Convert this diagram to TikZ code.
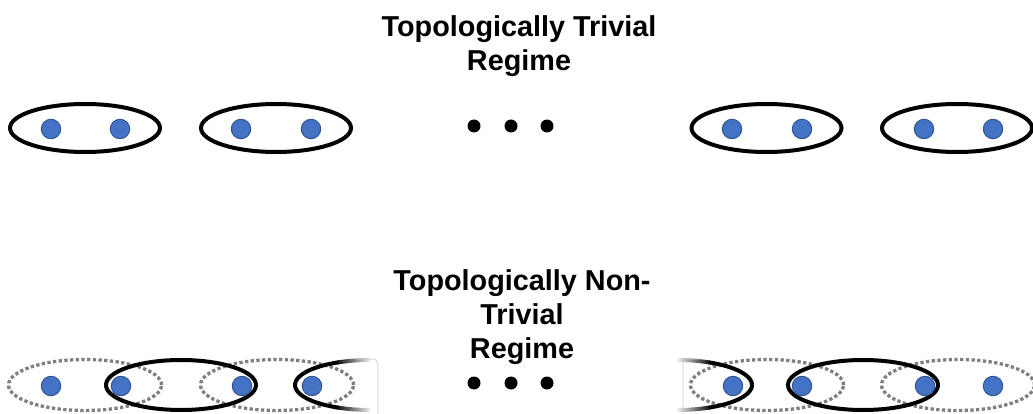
\documentclass[tikz,border=0pt]{standalone}
\usepackage{fontspec}
\setmainfont{Liberation Sans}
\usetikzlibrary{fadings}
\definecolor{siteblue}{HTML}{4472C4}
\definecolor{siteedge}{HTML}{2F528F}
\definecolor{bondgray}{HTML}{7F7F7F}
\definecolor{framegray}{HTML}{C8C8C8}
\tikzfading[name=fade out right, left color=transparent!0, right color=transparent!100]
\tikzfading[name=fade out left, left color=transparent!100, right color=transparent!0]
\tikzset{
  site/.style={circle, fill=siteblue, draw=siteedge, line width=0.9pt, minimum size=19.5pt, inner sep=0pt},
  bond/.style={draw=black, line width=4pt},
  weakbond/.style={draw=bondgray, line width=3.3pt, dash pattern=on 3.3pt off 2.4pt},
  dotdot/.style={circle, fill=black, minimum size=13pt, inner sep=0pt},
  title/.style={font=\fontsize{28.8}{34}\selectfont\bfseries, align=center, inner sep=0pt},
  cropframe/.style={draw=framegray, line width=0.6pt, rounded corners=5pt},
  halfbond/.style={x radius=75pt, y radius=25pt}
}
\begin{document}
\begin{tikzpicture}[x=1pt,y=-1pt]
\useasboundingbox (0,0) rectangle (1033,414);

% headings (base anchor = baseline of the last line)
\node[title, anchor=base] (t1) at (519,71) {Topologically Trivial\\Regime};
\node[title, anchor=base] (t2) at (522,358) {Topologically Non-\\Trivial\\Regime};

% ---- trivial phase: intra-cell pairing ----
\draw[bond] (85,128) ellipse [x radius=75pt, y radius=24pt];
\draw[bond] (276,128) ellipse [x radius=75pt, y radius=24pt];
\draw[bond] (766.5,128) ellipse [x radius=75pt, y radius=24pt];
\draw[bond] (957,128) ellipse [x radius=75pt, y radius=24pt];
\foreach \x/\n in {51/a1,120/a2,241/a3,311/a4,732/a5,802/a6,924/a7,993/a8}
  \node[site] (\n) at (\x,129) {};
\foreach \x/\n in {474/e1,511/e2,547/e3}
  \node[dotdot] (\n) at (\x,126) {};

% ---- non-trivial phase: intra-cell (dotted) and inter-cell (solid) pairing ----
\draw[weakbond] (85,385) ellipse [x radius=76.5pt, y radius=25.5pt];
\draw[weakbond] (277,385) ellipse [x radius=76.5pt, y radius=25.5pt];
\draw[weakbond] (767,385) ellipse [x radius=76.5pt, y radius=25.5pt];
\begin{scope}
  \clip (0,0) rectangle (1033,414);
  \draw[weakbond] (958,385) ellipse [x radius=76.5pt, y radius=25.5pt];
\end{scope}
\draw[bond] (181,385) ellipse [x radius=75pt, y radius=25pt];
\draw[bond] (863,385) ellipse [x radius=75pt, y radius=25pt];

% bonds leaving the shown segment: solid middle part, ends fading out
\coordinate (lc) at (370,385);
\coordinate (rc) at (677,385);
\draw[bond] (lc) ++(115:75pt and 25pt)
  arc [start angle=115, end angle=245, halfbond];
\draw[bond, path fading=fade out right] (lc) ++(116:75pt and 25pt)
  arc [start angle=116, end angle=90, halfbond];
\draw[bond, path fading=fade out right] (lc) ++(244:75pt and 25pt)
  arc [start angle=244, end angle=270, halfbond];
\draw[bond] (rc) ++(65:75pt and 25pt)
  arc [start angle=65, end angle=-65, halfbond];
\draw[bond, path fading=fade out left] (rc) ++(64:75pt and 25pt)
  arc [start angle=64, end angle=90, halfbond];
\draw[bond, path fading=fade out left] (rc) ++(-64:75pt and 25pt)
  arc [start angle=-64, end angle=-90, halfbond];

% edges of the cut-out segments
\draw[cropframe] (356,359) -- (378,359) -- (378,414);
\draw[cropframe] (700,359) -- (683,359) -- (683,414);

\foreach \x/\n in {51/b1,121/b2,242/b3,312/b4,733/b5,802/b6,925/b7,993/b8}
  \node[site] (\n) at (\x,386) {};
\foreach \x/\n in {474/f1,511/f2,547/f3}
  \node[dotdot] (\n) at (\x,383) {};
\end{tikzpicture}
\end{document}
